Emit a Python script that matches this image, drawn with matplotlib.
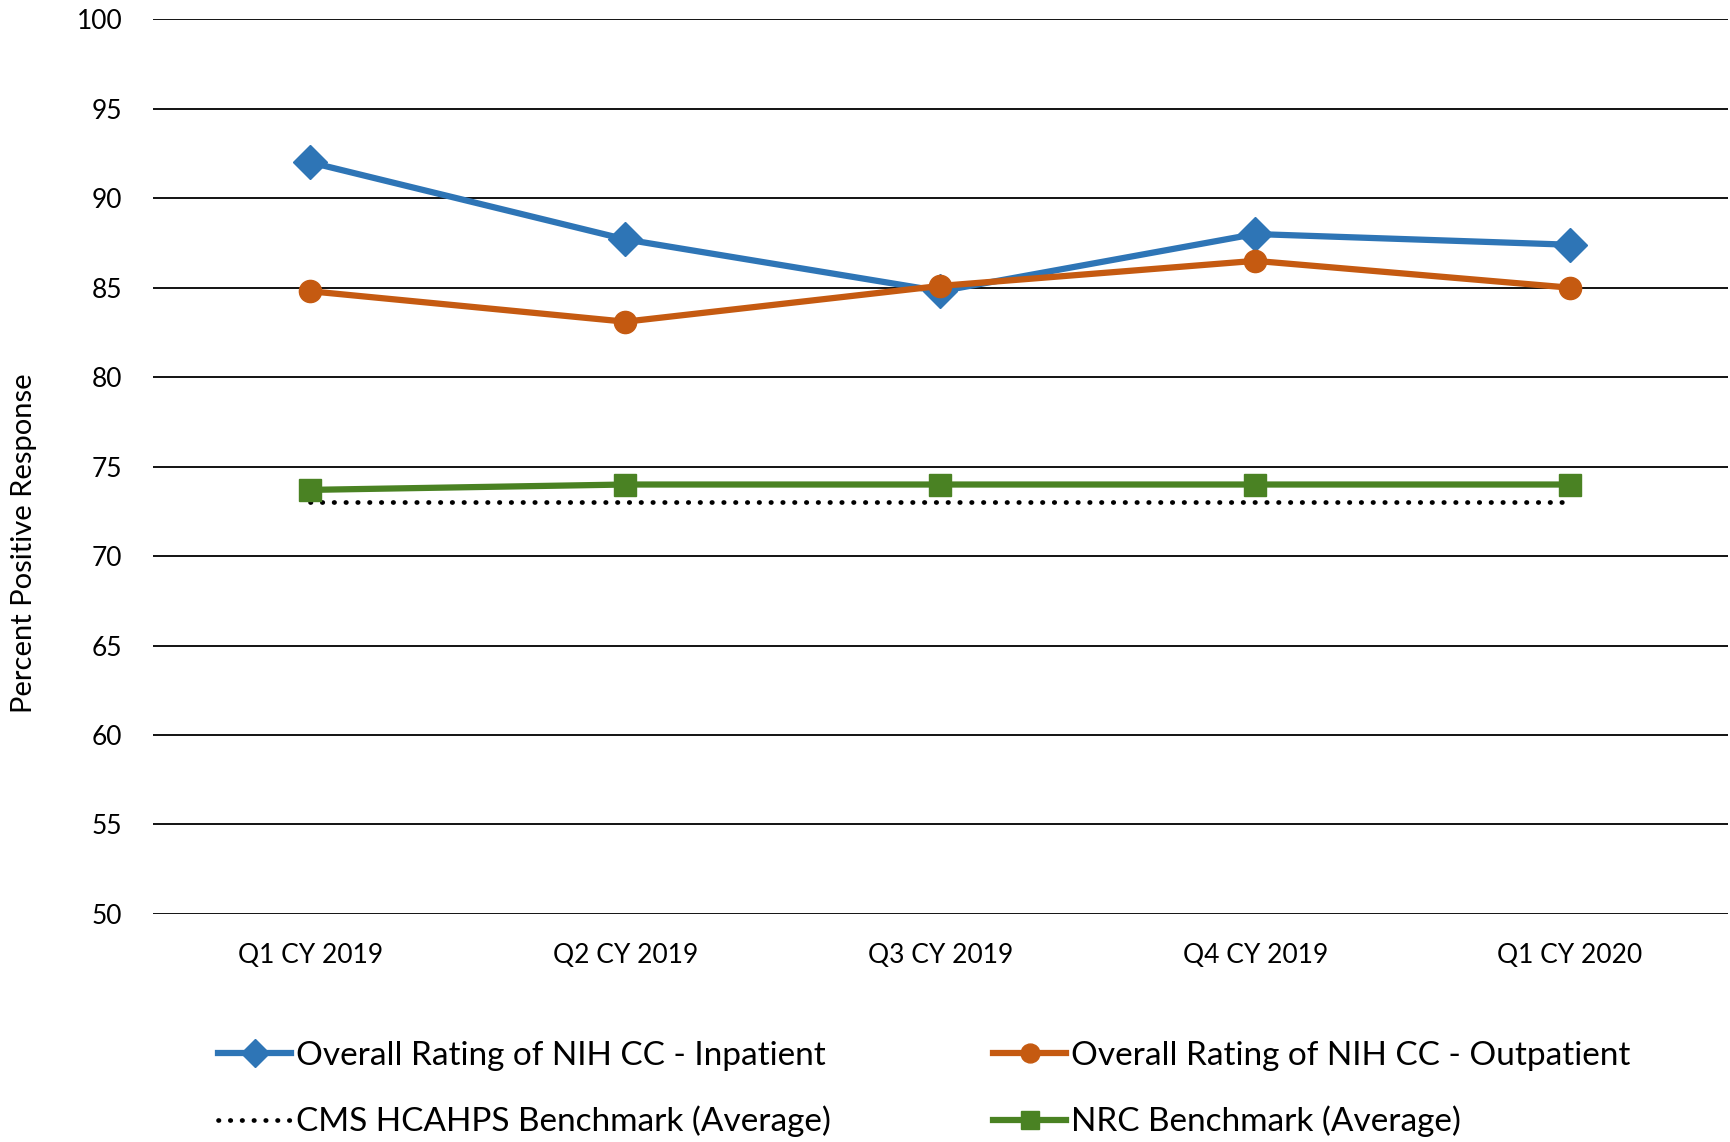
import numpy as np
import matplotlib
matplotlib.use("Agg")
import matplotlib.pyplot as plt

plt.rcParams['font.family'] = ['Lato', 'DejaVu Sans']

quarters = ["Q1 CY 2019", "Q2 CY 2019", "Q3 CY 2019", "Q4 CY 2019", "Q1 CY 2020"]
inpatient = [92.0, 87.7, 84.8, 88.0, 87.4]
outpatient = [84.8, 83.1, 85.1, 86.5, 85.0]
cms_bench = [73.0, 73.0, 73.0, 73.0, 73.0]
nrc_bench = [73.7, 74.0, 74.0, 74.0, 74.0]

y_ticks = list(range(50, 101, 5))

blue = "#2E75B6"
orange = "#C55A11"
green = "#4A8223"

fig = plt.figure(figsize=(17.31, 11.42), dpi=100)
ax = fig.add_axes([0.0884, 0.1997, 0.9096, 0.7834])

x = np.arange(len(quarters))

for yv in y_ticks:
    ax.axhline(yv, color="black", lw=1.3, zorder=0)

l_in, = ax.plot(x, inpatient, color=blue, lw=4.5, marker="D", ms=17,
                label="Overall Rating of NIH CC - Inpatient", zorder=3)
l_out, = ax.plot(x, outpatient, color=orange, lw=4.5, marker="o", ms=16,
                 label="Overall Rating of NIH CC - Outpatient", zorder=4)
l_cms, = ax.plot(x, cms_bench, color="black", lw=3.4, linestyle=(0, (0.1, 2.4)),
                 dash_capstyle="round", label="CMS HCAHPS Benchmark (Average)", zorder=2)
l_nrc, = ax.plot(x, nrc_bench, color=green, lw=4.5, marker="s", ms=16,
                 label="NRC Benchmark (Average)", zorder=3)

ax.set_xlim(-0.5, len(quarters) - 0.5)
ax.set_ylim(50, 100)
ax.set_xticks(x)
ax.set_xticklabels(quarters)
ax.set_yticks(y_ticks)
ax.tick_params(axis="both", length=0, labelsize=19)
ax.tick_params(axis="y", pad=22)
ax.tick_params(axis="x", pad=21)
for s in ax.spines.values():
    s.set_visible(False)

fig.text(24 / 1731, 1 - 543 / 1142, "Percent Positive Response", rotation=90,
         ha="center", va="center", fontsize=21)

fig.legend(handles=[l_in, l_cms, l_out, l_nrc], ncol=2, frameon=False,
           loc="center left", bbox_to_anchor=(218 / 1731, 1 - 1089 / 1142),
           fontsize=24, handlelength=2.2, handletextpad=0.15, borderpad=0,
           borderaxespad=0, labelspacing=1.05, columnspacing=4.85, markerscale=0.85)

fig.savefig("out.png", dpi=100)
